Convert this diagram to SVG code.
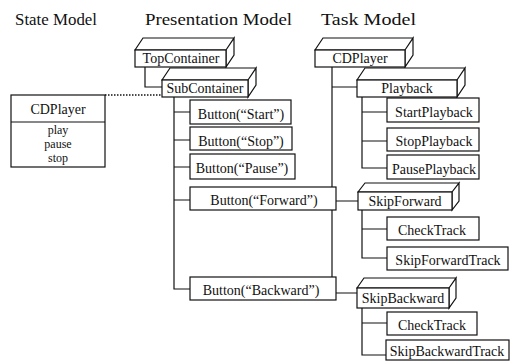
<svg xmlns="http://www.w3.org/2000/svg" width="510" height="361" viewBox="0 0 510 361">
<style>
.t{font-family:"Liberation Serif","Times New Roman",serif;font-size:17px;fill:#111}
.l{font-family:"Liberation Serif","Times New Roman",serif;font-size:14px;fill:#111;text-anchor:middle}
.s{font-family:"Liberation Serif","Times New Roman",serif;font-size:12px;fill:#111;text-anchor:middle}
.b{fill:#fff;stroke:#111;stroke-width:1.2}
.c{fill:none;stroke:#111;stroke-width:1.2}
.d{fill:none;stroke:#111;stroke-width:1.6;stroke-dasharray:1.5 1.5}
</style>
<rect width="510" height="361" fill="#fff"/>
<text class="t" x="15" y="25" textLength="82" lengthAdjust="spacingAndGlyphs">State Model</text>
<text class="t" x="145" y="25" textLength="147" lengthAdjust="spacingAndGlyphs">Presentation Model</text>
<text class="t" x="321" y="25" textLength="95" lengthAdjust="spacingAndGlyphs">Task Model</text>

<g id="connectors">
<path class="d" d="M105,95 H162"/>
<path class="c" d="M145,67 V87 H162"/>
<path class="c" d="M174,97 V289 H190 M174,112 H190 M174,140 H190 M174,167 H190 M174,200 H190"/>
<path class="c" d="M332,67 V293 H357 M332,87 H357 M332,201 H358"/>
<path class="c" d="M362,97 V168 H387 M362,112 H387 M362,141 H387"/>
<path class="c" d="M362,210 V258 H387 M362,229 H387"/>
<path class="c" d="M362,308 V355 H386 M362,323 H387"/>
</g>

<g id="state-cdplayer">
<rect class="b" x="11" y="95" width="94" height="72"/>
<path class="c" d="M11,122 H105"/>
<text class="l" x="58" y="114">CDPlayer</text>
<text class="s" x="58" y="134">play</text>
<text class="s" x="58" y="148">pause</text>
<text class="s" x="58" y="162">stop</text>
</g>

<g id="topcontainer">
<path class="b" d="M135,50 L143,38 H234 L226,50 Z M226,50 L234,38 V55 L226,67 Z"/>
<rect class="b" x="135" y="50" width="91" height="17"/>
<text class="l" x="181" y="63">TopContainer</text>
</g>
<g id="subcontainer">
<path class="b" d="M162,80 L170,68 H256 L248,80 Z M248,80 L256,68 V85 L248,97 Z"/>
<rect class="b" x="162" y="80" width="86" height="17"/>
<text class="l" x="205" y="93">SubContainer</text>
</g>
<g id="btn-start"><rect class="b" x="190" y="100" width="101" height="24"/><text class="l" x="241" y="119">Button(“Start”)</text></g>
<g id="btn-stop"><rect class="b" x="190" y="127" width="102" height="23"/><text class="l" x="241" y="146">Button(“Stop”)</text></g>
<g id="btn-pause"><rect class="b" x="190" y="154" width="105" height="25"/><text class="l" x="242" y="173">Button(“Pause”)</text></g>
<g id="btn-forward"><rect class="b" x="190" y="187" width="146" height="23"/><text class="l" x="264" y="205">Button(“Forward”)</text></g>
<g id="btn-backward"><rect class="b" x="190" y="277" width="146" height="23"/><text class="l" x="261" y="295">Button(“Backward”)</text></g>

<g id="task-cdplayer">
<path class="b" d="M315,50 L323,38 H413 L405,50 Z M405,50 L413,38 V55 L405,67 Z"/>
<rect class="b" x="315" y="50" width="90" height="17"/>
<text class="l" x="360" y="63">CDPlayer</text>
</g>
<g id="playback">
<path class="b" d="M357,80 L365,68 H465 L457,80 Z M457,80 L465,68 V85 L457,97 Z"/>
<rect class="b" x="357" y="80" width="100" height="17"/>
<text class="l" x="407" y="93">Playback</text>
</g>
<g id="startplayback"><rect class="b" x="387" y="98" width="92" height="24"/><text class="l" x="434" y="117">StartPlayback</text></g>
<g id="stopplayback"><rect class="b" x="387" y="128" width="92" height="23"/><text class="l" x="434" y="146">StopPlayback</text></g>
<g id="pauseplayback"><rect class="b" x="387" y="155" width="92" height="24"/><text class="l" x="434" y="174">PausePlayback</text></g>
<g id="skipforward">
<path class="b" d="M358,192 L365,183 H459 L452,192 Z M452,192 L459,183 V201 L452,210 Z"/>
<rect class="b" x="358" y="192" width="94" height="18"/>
<text class="l" x="405" y="206">SkipForward</text>
</g>
<g id="checktrack-1"><rect class="b" x="387" y="217" width="92" height="23"/><text class="l" x="432" y="235">CheckTrack</text></g>
<g id="skipforwardtrack"><rect class="b" x="387" y="247" width="121" height="23"/><text class="l" x="448" y="265">SkipForwardTrack</text></g>
<g id="skipbackward">
<path class="b" d="M357,288 L364,278 H456 L449,288 Z M449,288 L456,278 V298 L449,308 Z"/>
<rect class="b" x="357" y="288" width="92" height="20"/>
<text class="l" x="403" y="303">SkipBackward</text>
</g>
<g id="checktrack-2"><rect class="b" x="387" y="312" width="90" height="23"/><text class="l" x="432" y="330">CheckTrack</text></g>
<g id="skipbackwardtrack"><rect class="b" x="386" y="340" width="123" height="20"/><text class="l" x="447" y="356">SkipBackwardTrack</text></g>
</svg>
